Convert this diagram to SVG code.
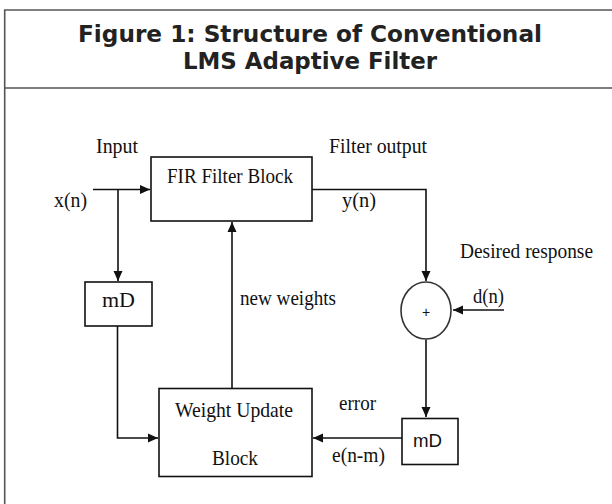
<svg xmlns="http://www.w3.org/2000/svg" width="612" height="504" viewBox="0 0 612 504">
<defs>
<style>
.frame{stroke:#555;stroke-width:1.6;fill:none}
.title{font-family:"DejaVu Sans",Verdana,sans-serif;font-weight:bold;font-size:22.5px;fill:#222}
.box{fill:#fff;stroke:#111;stroke-width:1.6}
.lbl{font-family:"Liberation Serif","Times New Roman",serif;font-size:21px;fill:#111}
.sans{font-family:"Liberation Sans",Arial,sans-serif;fill:#111}
.wire{stroke:#111;stroke-width:1.6;fill:none}
</style>
<marker id="arr" markerUnits="userSpaceOnUse" markerWidth="12" markerHeight="12" viewBox="0 0 12 12" refX="11" refY="6" orient="auto">
<path d="M1,1.5 L11,6 L1,10.5 Z" fill="#111"/>
</marker>
</defs>
<rect width="612" height="504" fill="#fff"/>
<g id="frame">
<path class="frame" d="M4.7,504 V10 H612"/>
<path class="frame" d="M4.7,88 H612"/>
<text class="title" x="78" y="42" textLength="464" lengthAdjust="spacingAndGlyphs">Figure 1: Structure of Conventional</text>
<text class="title" x="183" y="69" textLength="254" lengthAdjust="spacingAndGlyphs">LMS Adaptive Filter</text>
</g>
<g id="connectors">
<path class="wire" d="M93,189.5 H150" marker-end="url(#arr)"/>
<path class="wire" d="M118,189.5 V281" marker-end="url(#arr)"/>
<path class="wire" d="M117.5,326 V438 H158" marker-end="url(#arr)"/>
<path class="wire" d="M232,388 V222" marker-end="url(#arr)"/>
<path class="wire" d="M312,189.5 H426 V281" marker-end="url(#arr)"/>
<path class="wire" d="M504,310 H453" marker-end="url(#arr)"/>
<path class="wire" d="M426,339.5 V417" marker-end="url(#arr)"/>
<path class="wire" d="M402,438 H313" marker-end="url(#arr)"/>
</g>
<g id="fir">
<rect class="box" x="151" y="157" width="161" height="64"/>
<text class="lbl" x="167" y="183" textLength="126" lengthAdjust="spacingAndGlyphs">FIR Filter Block</text>
</g>
<g id="md1">
<rect class="box" x="85" y="282" width="67" height="44"/>
<text class="lbl" x="102" y="307" textLength="33" lengthAdjust="spacingAndGlyphs">mD</text>
</g>
<g id="weight-update">
<rect class="box" x="159" y="388.5" width="153" height="88"/>
<text class="lbl" x="175" y="417" textLength="118" lengthAdjust="spacingAndGlyphs">Weight Update</text>
<text class="lbl" x="212" y="465" textLength="46" lengthAdjust="spacingAndGlyphs">Block</text>
</g>
<g id="sum">
<ellipse cx="426" cy="310.5" rx="25" ry="28.5" fill="#fff" stroke="#333" stroke-width="1.6"/>
<text class="sans" x="426" y="316.5" font-size="14" text-anchor="middle">+</text>
</g>
<g id="md2">
<rect class="box" x="402" y="418.5" width="56" height="46"/>
<text class="sans" x="413" y="447" font-size="18" textLength="29" lengthAdjust="spacingAndGlyphs">mD</text>
</g>
<g id="labels">
<text class="lbl" x="96" y="153" textLength="42" lengthAdjust="spacingAndGlyphs">Input</text>
<text class="lbl" x="54" y="207" textLength="33" lengthAdjust="spacingAndGlyphs">x(n)</text>
<text class="lbl" x="329" y="153" textLength="98" lengthAdjust="spacingAndGlyphs">Filter output</text>
<text class="lbl" x="342" y="207" textLength="34" lengthAdjust="spacingAndGlyphs">y(n)</text>
<text class="lbl" x="460" y="258" textLength="133" lengthAdjust="spacingAndGlyphs">Desired response</text>
<text class="lbl" x="473" y="303" textLength="31" lengthAdjust="spacingAndGlyphs">d(n)</text>
<text class="lbl" x="240" y="305" textLength="96" lengthAdjust="spacingAndGlyphs">new weights</text>
<text class="lbl" x="339" y="410" textLength="37" lengthAdjust="spacingAndGlyphs">error</text>
<text class="lbl" x="332" y="462" textLength="53" lengthAdjust="spacingAndGlyphs">e(n-m)</text>
</g>
</svg>
